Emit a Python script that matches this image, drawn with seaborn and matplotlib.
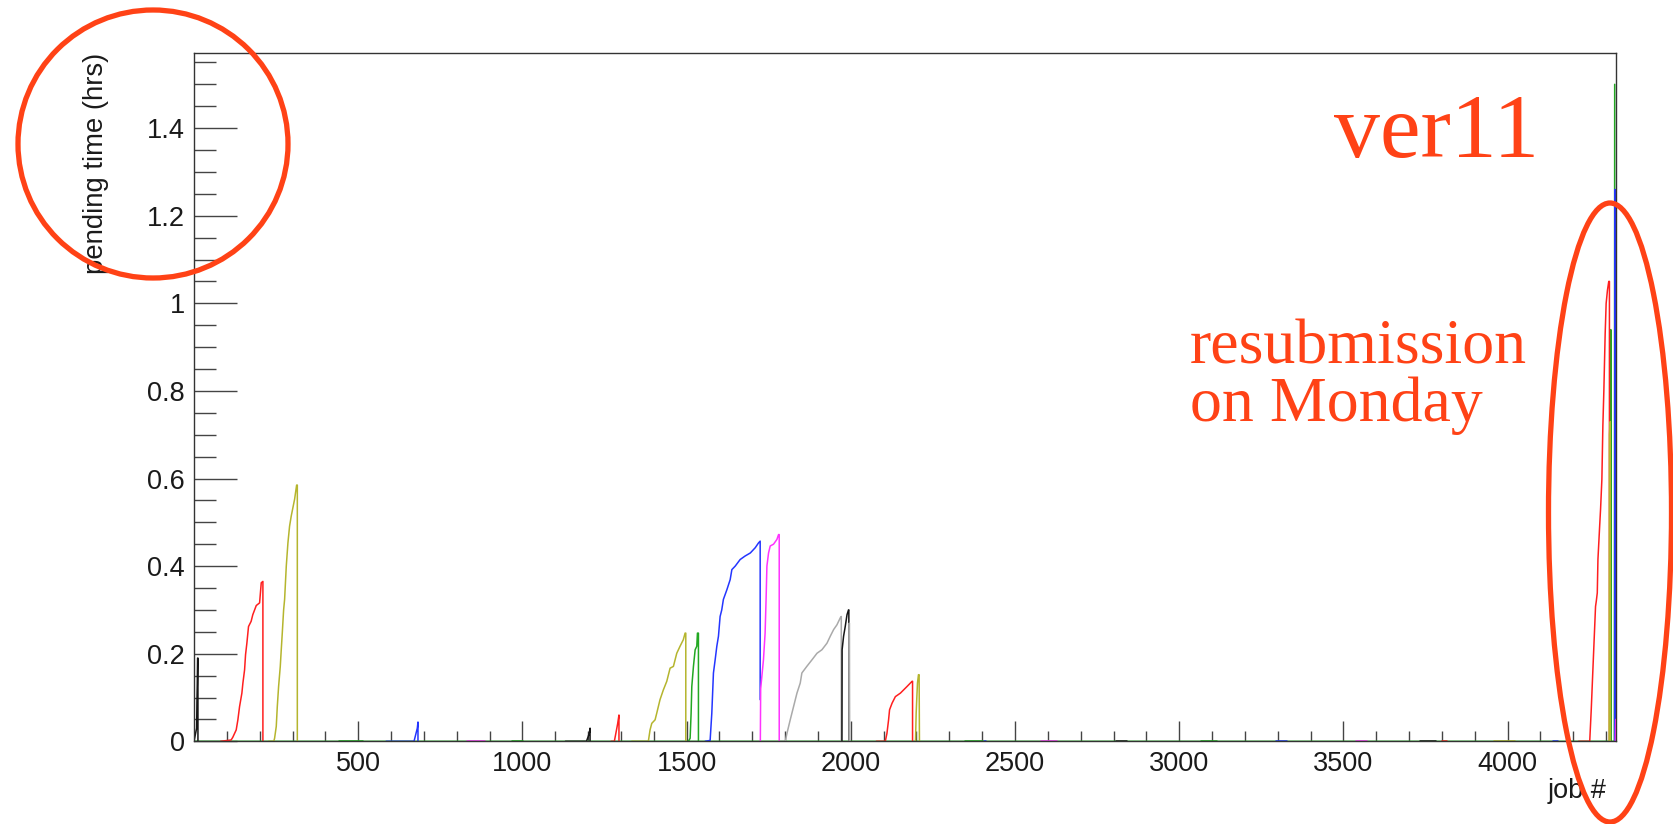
import numpy as np
import pandas as pd
import matplotlib
matplotlib.use("Agg")
import matplotlib.pyplot as plt
import seaborn as sns
from matplotlib.patches import Ellipse
from matplotlib.ticker import FixedLocator, FuncFormatter

# ---------------- data (job #, pending time in hrs) ----------------
green_base_x = [0, 4313, 4314, 4315, 4325, 4326]
green_base_y = [0, 0, 0.94, 0, 0, 1.50]

black_a_x = [0, 8, 9, 10, 11, 12, 12]
black_a_y = [0, 0.03, 0.09, 0.13, 0.19, 0.19, 0]

red_a_x = [81, 113, 118, 128.5, 133.6, 138.7, 145.8, 148.9, 154, 157, 161, 166, 174, 179, 189.6, 199.7, 204.8, 209.8, 209.8]
red_a_y = [0, 0.003, 0.009, 0.026, 0.049, 0.079, 0.110, 0.133, 0.163, 0.198, 0.224, 0.262, 0.274, 0.289, 0.310, 0.316, 0.362, 0.365, 0]

olive_a_x = [227, 243, 245.4, 250.5, 253.6, 257.6, 262.7, 265.7, 268.8, 272.9, 275.9, 281, 286, 291, 296, 306.4, 312.5, 314.6, 314.6]
olive_a_y = [0, 0, 0.007, 0.034, 0.079, 0.125, 0.171, 0.209, 0.247, 0.30, 0.324, 0.40, 0.453, 0.491, 0.514, 0.553, 0.585, 0.585, 0]

blue_a_x = [585, 670, 675, 680, 682, 682]
blue_a_y = [0, 0, 0.015, 0.03, 0.044, 0]

black_c_x = [1131, 1195, 1200, 1204, 1206, 1206]
black_c_y = [0, 0, 0.01, 0.02, 0.03, 0]

red_b_x = [1270, 1280, 1285, 1290, 1294, 1294]
red_b_y = [0, 0, 0.02, 0.04, 0.06, 0]

olive_b_x = [1333, 1383.5, 1388.7, 1393.9, 1404, 1409, 1419, 1429, 1439.6, 1449.7, 1459.8, 1470, 1480, 1490, 1495.4, 1497.5, 1497.5]
olive_b_y = [0, 0, 0.026, 0.041, 0.049, 0.064, 0.095, 0.117, 0.137, 0.167, 0.171, 0.201, 0.217, 0.232, 0.247, 0.247, 0]

green_b_x = [1505.6, 1510.7, 1513.7, 1515.8, 1520.8, 1526, 1531, 1533, 1536, 1536]
green_b_y = [0, 0.007, 0.064, 0.125, 0.171, 0.209, 0.217, 0.247, 0.247, 0]

blue_b_x = [1556.4, 1571.6, 1576.7, 1581.7, 1586.9, 1592, 1597, 1602, 1607, 1612, 1622.6, 1632.6, 1637.8, 1648, 1663, 1678, 1694, 1709, 1719, 1724, 1724]
blue_b_y = [0, 0.002, 0.064, 0.156, 0.186, 0.217, 0.24, 0.285, 0.30, 0.324, 0.346, 0.369, 0.392, 0.40, 0.415, 0.423, 0.43, 0.442, 0.453, 0.457, 0.095]

magenta_b_x = [1724.5, 1725.5, 1734, 1739, 1742, 1744.5, 1749.5, 1754.6, 1764.7, 1775, 1780, 1782, 1782]
magenta_b_y = [0, 0.12, 0.186, 0.247, 0.324, 0.40, 0.43, 0.446, 0.45, 0.461, 0.472, 0.472, 0]

gray_b_x = [1785, 1800.6, 1805.5, 1815.5, 1825.6, 1836, 1846, 1851, 1866, 1881.7, 1897, 1912, 1927.4, 1937.5, 1947.6, 1957.8, 1968, 1971, 1971]
gray_b_y = [0, 0, 0.018, 0.049, 0.079, 0.110, 0.133, 0.156, 0.171, 0.186, 0.201, 0.209, 0.224, 0.24, 0.255, 0.266, 0.282, 0.285, 0]

black_b_x = [1973, 1973.5, 1978, 1983, 1988.4, 1993, 1994, 1994]
black_b_y = [0, 0.209, 0.24, 0.262, 0.289, 0.30, 0.30, 0]

gray_c_x = [1995, 1995.5, 1996.5]
gray_c_y = [0, 0.27, 0]

red_c_x = [2077.7, 2105, 2110, 2115, 2118, 2125.6, 2135.7, 2151, 2171, 2186.6, 2188, 2188]
red_c_y = [0, 0, 0.018, 0.049, 0.072, 0.087, 0.102, 0.110, 0.125, 0.137, 0.137, 0]

olive_c_x = [2197, 2199, 2201, 2203, 2206, 2208, 2209]
olive_c_y = [0, 0.064, 0.10, 0.133, 0.152, 0.152, 0]

red_end_x = [4216, 4250, 4254.6, 4256.7, 4259, 4263, 4267.7, 4270, 4273, 4275, 4280, 4283, 4287, 4290, 4293, 4297, 4300, 4304, 4308, 4310, 4310]
red_end_y = [0, 0, 0.072, 0.11, 0.152, 0.224, 0.308, 0.32, 0.339, 0.415, 0.488, 0.53, 0.598, 0.72, 0.80, 0.93, 1.0, 1.03, 1.05, 1.05, 0]

olive_end_x = [4309, 4310, 4311.5, 4312.5, 4313]
olive_end_y = [0, 0.70, 0.72, 0.73, 0]

blue_end_x = [4326, 4327, 4328]
blue_end_y = [0, 1.26, 0]

magenta_end_x = [4328, 4329]
magenta_end_y = [0, 0.05]

# short flat segments at zero (start job, end job, colour name)
flat_start = [441, 832, 969, 2349, 2406, 2578, 2806, 3066, 3295, 3538, 3733, 3799, 3958, 4138]
flat_end = [514, 887, 1001, 2404, 2412, 2627, 2840, 3115, 3328, 3572, 3782, 3815, 4021, 4153]
flat_color = ["green", "magenta", "green", "green", "blue", "magenta", "black", "green",
              "blue", "magenta", "black", "red", "olive", "blue"]

colors = {"green": "#22a822", "red": "#ff1f1f", "olive": "#b5b52e", "blue": "#2436ff",
          "magenta": "#ff33ff", "gray": "#aaaaaa", "black": "#151515"}

series = [
    ("green_base", green_base_x, green_base_y, "green"),
    ("black_a", black_a_x, black_a_y, "black"),
    ("red_a", red_a_x, red_a_y, "red"),
    ("olive_a", olive_a_x, olive_a_y, "olive"),
    ("blue_a", blue_a_x, blue_a_y, "blue"),
    ("black_c", black_c_x, black_c_y, "black"),
    ("red_b", red_b_x, red_b_y, "red"),
    ("olive_b", olive_b_x, olive_b_y, "olive"),
    ("green_b", green_b_x, green_b_y, "green"),
    ("blue_b", blue_b_x, blue_b_y, "blue"),
    ("magenta_b", magenta_b_x, magenta_b_y, "magenta"),
    ("gray_b", gray_b_x, gray_b_y, "gray"),
    ("black_b", black_b_x, black_b_y, "black"),
    ("gray_c", gray_c_x, gray_c_y, "gray"),
    ("red_c", red_c_x, red_c_y, "red"),
    ("olive_c", olive_c_x, olive_c_y, "olive"),
    ("red_end", red_end_x, red_end_y, "red"),
    ("olive_end", olive_end_x, olive_end_y, "olive"),
    ("blue_end", blue_end_x, blue_end_y, "blue"),
    ("magenta_end", magenta_end_x, magenta_end_y, "magenta"),
]
for i, (s, e, c) in enumerate(zip(flat_start, flat_end, flat_color)):
    series.insert(1, (f"flat_{i}", [s, e], [0, 0], c))

frames = []
palette = {}
order = []
for name, xs, ys, c in series:
    frames.append(pd.DataFrame({"job": xs, "pending": ys, "series": name}))
    palette[name] = colors[c]
    order.append(name)
df = pd.concat(frames, ignore_index=True)

# ---------------- figure ----------------
sns.set_theme(style="white")
plt.rcParams["font.family"] = ["Liberation Sans", "DejaVu Sans"]

W, H = 1674, 824
fig = plt.figure(figsize=(W / 100, H / 100), dpi=100)
ax = fig.add_axes([194 / W, 1 - 741.3 / H, (1616 - 194) / W, (741.3 - 53) / H])

sns.lineplot(data=df, x="job", y="pending", hue="series", hue_order=order,
             palette=palette, estimator=None, sort=False, legend=False,
             linewidth=1.1, ax=ax)

ax.set_xlim(0, 4330)
ax.set_ylim(0, 1.5715)

ax.xaxis.set_major_locator(FixedLocator([500, 1000, 1500, 2000, 2500, 3000, 3500, 4000]))
ax.xaxis.set_minor_locator(FixedLocator([v for v in range(100, 4330, 100) if v % 500 != 0]))
ax.yaxis.set_major_locator(FixedLocator([0, 0.2, 0.4, 0.6, 0.8, 1.0, 1.2, 1.4]))
ax.yaxis.set_minor_locator(FixedLocator([v / 100 for v in range(5, 160, 5) if v % 20 != 0]))
ax.yaxis.set_major_formatter(FuncFormatter(lambda v, p: f"{v:g}"))

tc = "#444444"
ax.tick_params(axis="x", which="major", direction="in", length=14.4, width=1.0,
               color=tc, labelsize=19.5, labelcolor="#1a1a1a", pad=7, top=False, bottom=True)
ax.tick_params(axis="x", which="minor", direction="in", length=7.2, width=1.0,
               color=tc, top=False, bottom=True)
ax.tick_params(axis="y", which="major", direction="in", length=31, width=1.0,
               color=tc, labelsize=19.5, labelcolor="#1a1a1a", pad=6.5, left=True, right=False)
ax.tick_params(axis="y", which="minor", direction="in", length=15.8, width=1.0,
               color=tc, left=True, right=False)

for sp in ax.spines.values():
    sp.set_color("#333333")
    sp.set_linewidth(1.0)

ax.set_ylabel("pending time (hrs)", fontsize=19.8, color="#1a1a1a", loc="top")
ax.yaxis.set_label_coords(-0.0600, 1.0)
ax.set_xlabel("job #", fontsize=19.5, color="#1a1a1a", loc="right")
ax.xaxis.set_label_coords((1607 - 194) / 1422, -(778 - 741.3) / 688.3)

# ---------------- annotations ----------------
ann = "#ff4216"
fig.text(1334 / W, 1 - 157 / H, "ver11", fontsize=66, color=ann,
         family=["Liberation Serif", "DejaVu Serif"], va="baseline", ha="left")
fig.text(1190 / W, 1 - 363 / H, "resubmission", fontsize=46, color=ann,
         family=["Liberation Serif", "DejaVu Serif"], va="baseline", ha="left")
fig.text(1190 / W, 1 - 421 / H, "on Monday", fontsize=46, color=ann,
         family=["Liberation Serif", "DejaVu Serif"], va="baseline", ha="left")

fig.add_artist(Ellipse((153 / W, 1 - 144 / H), width=270 / W, height=268 / H,
                       transform=fig.transFigure, fill=False, edgecolor=ann,
                       linewidth=3.8, clip_on=False))
fig.add_artist(Ellipse((1610 / W, 1 - 512.5 / H), width=123 / W, height=619 / H,
                       transform=fig.transFigure, fill=False, edgecolor=ann,
                       linewidth=3.8, clip_on=False))

fig.savefig("out.png", dpi=100, facecolor="white")
